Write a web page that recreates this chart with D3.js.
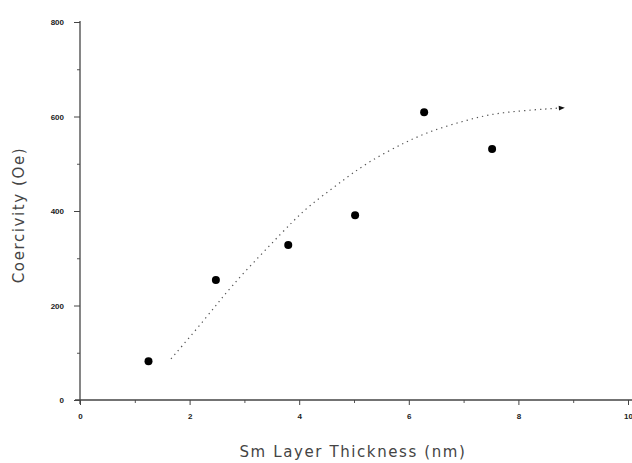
<!DOCTYPE html>
<html lang="en">
<head>
<meta charset="UTF-8">
<title>Coercivity vs Sm layer thickness</title>
<script src="https://d3js.org/d3.v7.min.js"></script>
<style>
  body { margin: 0; background: #fff; }
  svg { display: block; }
  .tick text { font-family: "Liberation Sans", Arial, sans-serif; font-size: 8px; font-weight: bold; fill: #222; }
  .title { font-family: "DejaVu Sans", sans-serif; font-size: 15px; letter-spacing: 1.6px; fill: #444; }
</style>
</head>
<body>
<svg></svg>
<script>
const [width, height] = [632, 463]

// measured points
const thickness = [1.25, 2.48, 3.8, 5.02, 6.28, 7.52]
const coercivity = [82, 254, 328, 391, 609, 531]

// dotted fit curve
const fitX = [1.66, 2.32, 2.74, 3.47, 3.89, 4.2, 4.69, 5.22, 5.97, 6.44, 6.99, 7.48, 8.03, 8.52, 8.76]
const fitY = [87, 176, 239, 328, 379, 413, 455, 502, 548, 571, 590, 605, 612, 616, 618]

const xTicks = [0, 2, 4, 6, 8, 10]
const yTicks = [0, 200, 400, 600, 800]

const svg = d3.select('svg').attr('width', width).attr('height', height)

const x = d3.scaleLinear().domain([0, 10]).range([80, 628])
const y = d3.scaleLinear().domain([0, 800]).range([400, 22])

// minor ticks
svg.append('g').attr('transform', 'translate(0,400)')
    .call(d3.axisBottom(x).tickValues(d3.range(1, 10, 2)).tickSize(3).tickFormat(''))
    .call(g => g.select('.domain').remove())
    .selectAll('line').attr('stroke', '#555')
svg.append('g').attr('transform', 'translate(80,0)')
    .call(d3.axisLeft(y).tickValues(d3.range(100, 800, 200)).tickSize(3).tickFormat(''))
    .call(g => g.select('.domain').remove())
    .selectAll('line').attr('stroke', '#555')

// major axes
const xAxis = svg.append('g').attr('transform', 'translate(0,400)')
    .call(d3.axisBottom(x).tickValues(xTicks).tickSize(5).tickPadding(8))
xAxis.select('.domain').attr('d', `M75,0H${width}`).attr('stroke', '#444').attr('stroke-width', 1.3)
xAxis.selectAll('line').attr('stroke', '#444')

const yAxis = svg.append('g').attr('transform', 'translate(80,0)')
    .call(d3.axisLeft(y).tickValues(yTicks).tickSize(6).tickPadding(10))
yAxis.select('.domain').attr('d', 'M0,21V404').attr('stroke', '#444').attr('stroke-width', 1.3)
yAxis.selectAll('line').attr('stroke', '#444')

svg.append('text').attr('class', 'title')
    .attr('x', 353).attr('y', 457).attr('text-anchor', 'middle')
    .text('Sm Layer Thickness (nm)')
svg.append('text').attr('class', 'title')
    .attr('transform', 'translate(24,215)rotate(-90)').attr('text-anchor', 'middle')
    .text('Coercivity (Oe)')

// arrow head for the fit line
svg.append('defs').append('marker').attr('id', 'arrow')
    .attr('viewBox', '0 0 10 10').attr('refX', 2).attr('refY', 5)
    .attr('markerWidth', 9).attr('markerHeight', 6).attr('markerUnits', 'userSpaceOnUse')
    .attr('orient', 'auto')
  .append('path').attr('d', 'M0,1L10,5L0,9Z').attr('fill', '#111')

const line = d3.line().curve(d3.curveBasis).x(d => x(d[0])).y(d => y(d[1]))
svg.append('path').datum(d3.zip(fitX, fitY))
    .attr('d', line).attr('fill', 'none')
    .attr('stroke', '#555').attr('stroke-width', 1.2).attr('stroke-dasharray', '1.3,4')
    .attr('marker-end', 'url(#arrow)')

svg.selectAll('circle.pt').data(d3.zip(thickness, coercivity)).join('circle')
    .attr('class', 'pt')
    .attr('cx', d => x(d[0])).attr('cy', d => y(d[1])).attr('r', 4)
    .attr('fill', '#000')
</script>
</body>
</html>
